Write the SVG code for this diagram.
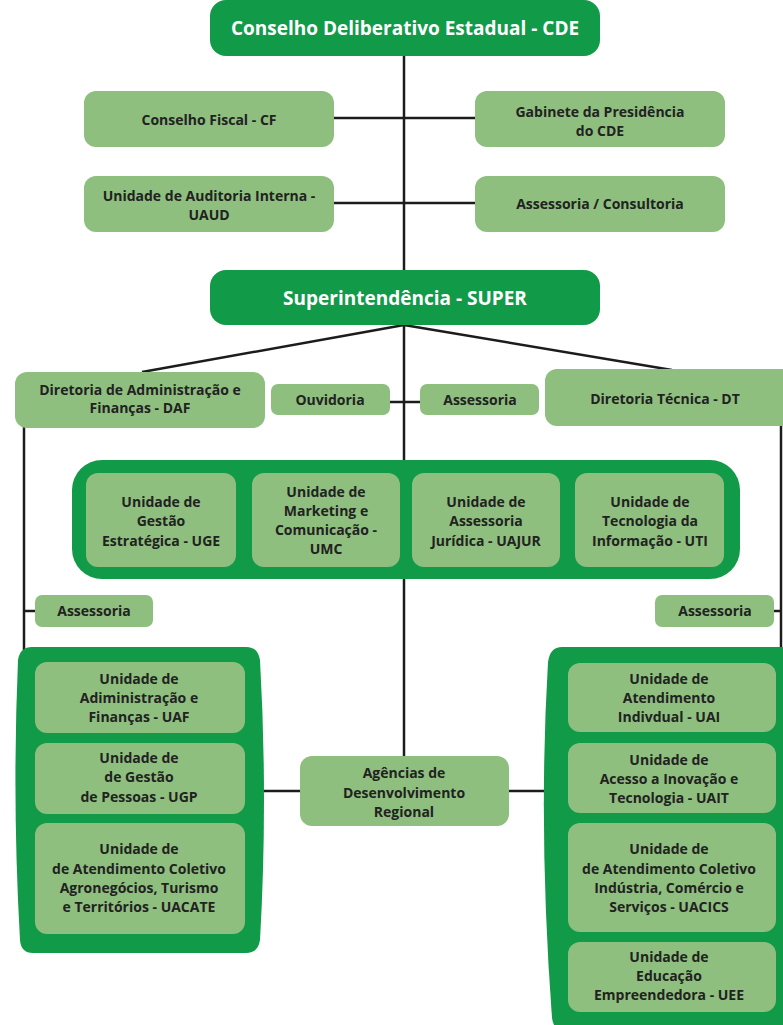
<svg xmlns="http://www.w3.org/2000/svg" width="783" height="1025" viewBox="0 0 783 1025">
  <style>
    .dark { fill: #119a48; }
    .light { fill: #8ebf7e; }
    .wire { stroke: #1c1c1c; stroke-width: 2.5; fill: none; }
    text { font-family: "Open Sans", "DejaVu Sans", sans-serif; font-weight: 700; text-anchor: middle; fill: #222222; }
    .title { fill: #ffffff; font-size: 19px; }
    .up { font-size: 14px; }
    .low { font-size: 14px; }
  </style>
  <rect width="783" height="1025" fill="#ffffff"/>

  <!-- connectors -->
  <g id="connectors">
    <line class="wire" x1="404" y1="50" x2="404" y2="275"/>
    <line class="wire" x1="334" y1="118" x2="475" y2="118"/>
    <line class="wire" x1="334" y1="203" x2="475" y2="203"/>
    <line class="wire" x1="404" y1="325" x2="142" y2="372"/>
    <line class="wire" x1="404" y1="325" x2="672" y2="370"/>
    <line class="wire" x1="404" y1="320" x2="404" y2="758"/>
    <line class="wire" x1="388" y1="402" x2="422" y2="402"/>
    <line class="wire" x1="24" y1="425" x2="24" y2="650"/>
    <line class="wire" x1="24" y1="611" x2="37" y2="611"/>
    <line class="wire" x1="781" y1="423" x2="781" y2="650"/>
    <line class="wire" x1="772" y1="611" x2="781" y2="611"/>
    <line class="wire" x1="258" y1="791" x2="302" y2="791"/>
    <line class="wire" x1="507" y1="791" x2="548" y2="791"/>
  </g>

  <!-- top council -->
  <g id="cde">
    <rect class="dark" x="210" y="0" width="390" height="56" rx="16"/>
    <text class="title" x="405" y="35">Conselho Deliberativo Estadual - CDE</text>
  </g>
  <g id="cf">
    <rect class="light" x="84" y="91" width="250" height="56" rx="12"/>
    <text class="up" x="209" y="125">Conselho Fiscal - CF</text>
  </g>
  <g id="gabinete">
    <rect class="light" x="475" y="91" width="250" height="56" rx="12"/>
    <text class="up" x="600" y="117">Gabinete da Presidência</text>
    <text class="up" x="600" y="136">do CDE</text>
  </g>
  <g id="uaud">
    <rect class="light" x="84" y="176" width="250" height="56" rx="12"/>
    <text class="up" x="209" y="201">Unidade de Auditoria Interna -</text>
    <text class="up" x="209" y="220">UAUD</text>
  </g>
  <g id="assessoria-consultoria">
    <rect class="light" x="475" y="176" width="250" height="56" rx="12"/>
    <text class="up" x="600" y="209">Assessoria / Consultoria</text>
  </g>

  <!-- superintendence -->
  <g id="super">
    <rect class="dark" x="210" y="270" width="390" height="55" rx="16"/>
    <text class="title" x="405" y="305">Superintendência - SUPER</text>
  </g>
  <g id="daf">
    <rect class="light" x="15" y="372" width="250" height="56" rx="12"/>
    <text class="up" x="140" y="395">Diretoria de Administração e</text>
    <text class="up" x="140" y="413">Finanças - DAF</text>
  </g>
  <g id="ouvidoria">
    <rect class="light" x="271" y="384" width="119" height="31" rx="7"/>
    <text class="up" x="330" y="405">Ouvidoria</text>
  </g>
  <g id="assessoria-super">
    <rect class="light" x="420" y="384" width="119" height="31" rx="7"/>
    <text class="up" x="480" y="405">Assessoria</text>
  </g>
  <g id="dt">
    <rect class="light" x="545" y="369" width="250" height="57" rx="12"/>
    <text class="up" x="665" y="404">Diretoria Técnica - DT</text>
  </g>

  <!-- units under the superintendence -->
  <g id="unidades-super">
    <rect class="dark" x="72" y="460" width="668" height="119" rx="30"/>
    <rect class="light" x="86" y="473" width="150" height="94" rx="12"/>
    <rect class="light" x="252" y="473" width="148" height="94" rx="12"/>
    <rect class="light" x="412" y="473" width="148" height="94" rx="12"/>
    <rect class="light" x="575" y="473" width="149" height="94" rx="12"/>
  </g>
  <g id="uge">
    <text class="up" x="161" y="507">Unidade de</text>
    <text class="up" x="161" y="526">Gestão</text>
    <text class="up" x="161" y="546">Estratégica - UGE</text>
  </g>
  <g id="umc">
    <text class="up" x="326" y="497">Unidade de</text>
    <text class="up" x="326" y="516">Marketing e</text>
    <text class="up" x="326" y="535">Comunicação -</text>
    <text class="up" x="326" y="554">UMC</text>
  </g>
  <g id="uajur">
    <text class="up" x="486" y="507">Unidade de</text>
    <text class="up" x="486" y="526">Assessoria</text>
    <text class="up" x="486" y="546">Jurídica - UAJUR</text>
  </g>
  <g id="uti">
    <text class="up" x="650" y="507">Unidade de</text>
    <text class="up" x="650" y="526">Tecnologia da</text>
    <text class="up" x="650" y="546">Informação - UTI</text>
  </g>

  <g id="assessoria-daf">
    <rect class="light" x="35" y="595" width="118" height="32" rx="7"/>
    <text class="up" x="94" y="616">Assessoria</text>
  </g>
  <g id="assessoria-dt">
    <rect class="light" x="655" y="595" width="119" height="32" rx="7"/>
    <text class="up" x="715" y="616">Assessoria</text>
  </g>

  <!-- DAF units -->
  <g id="unidades-daf">
    <path class="dark" d="M 32 647 L 246 647 Q 258 647 260 660 Q 268 800 260 940 Q 258 953 246 953 L 33 953 Q 21 953 20 940 Q 12 800 18 660 Q 20 647 32 647 Z"/>
    <rect class="light" x="35" y="662" width="210" height="71" rx="12"/>
    <rect class="light" x="35" y="743" width="210" height="71" rx="12"/>
    <rect class="light" x="35" y="823" width="210" height="111" rx="12"/>
  </g>
  <g id="uaf">
    <text class="low" x="139" y="684">Unidade de</text>
    <text class="low" x="139" y="703">Adiministração e</text>
    <text class="low" x="139" y="722">Finanças - UAF</text>
  </g>
  <g id="ugp">
    <text class="low" x="139" y="763">Unidade de</text>
    <text class="low" x="139" y="782">de Gestão</text>
    <text class="low" x="139" y="802">de Pessoas - UGP</text>
  </g>
  <g id="uacate">
    <text class="low" x="139" y="854">Unidade de</text>
    <text class="low" x="139" y="874">de Atendimento Coletivo</text>
    <text class="low" x="139" y="893">Agronegócios, Turismo</text>
    <text class="low" x="139" y="912">e Territórios - UACATE</text>
  </g>

  <g id="agencias">
    <rect class="light" x="300" y="756" width="209" height="70" rx="12"/>
    <text class="low" x="404" y="778">Agências de</text>
    <text class="low" x="404" y="798">Desenvolvimento</text>
    <text class="low" x="404" y="817">Regional</text>
  </g>

  <!-- DT units -->
  <g id="unidades-dt">
    <path class="dark" d="M 562 647 L 790 647 L 790 1032 L 566 1032 Q 554 1032 552 1018 Q 538 830 548 662 Q 550 647 562 647 Z"/>
    <rect class="light" x="568" y="663" width="208" height="69" rx="12"/>
    <rect class="light" x="568" y="743" width="208" height="70" rx="12"/>
    <rect class="light" x="568" y="823" width="208" height="109" rx="12"/>
    <rect class="light" x="568" y="942" width="208" height="70" rx="12"/>
  </g>
  <g id="uai">
    <text class="low" x="669" y="684">Unidade de</text>
    <text class="low" x="669" y="703">Atendimento</text>
    <text class="low" x="669" y="722">Indivdual - UAI</text>
  </g>
  <g id="uait">
    <text class="low" x="669" y="765">Unidade de</text>
    <text class="low" x="669" y="784">Acesso a Inovação e</text>
    <text class="low" x="669" y="803">Tecnologia - UAIT</text>
  </g>
  <g id="uacics">
    <text class="low" x="669" y="854">Unidade de</text>
    <text class="low" x="669" y="874">de Atendimento Coletivo</text>
    <text class="low" x="669" y="893">Indústria, Comércio e</text>
    <text class="low" x="669" y="912">Serviços - UACICS</text>
  </g>
  <g id="uee">
    <text class="low" x="669" y="962">Unidade de</text>
    <text class="low" x="669" y="981">Educação</text>
    <text class="low" x="669" y="1000">Empreendedora - UEE</text>
  </g>
</svg>
